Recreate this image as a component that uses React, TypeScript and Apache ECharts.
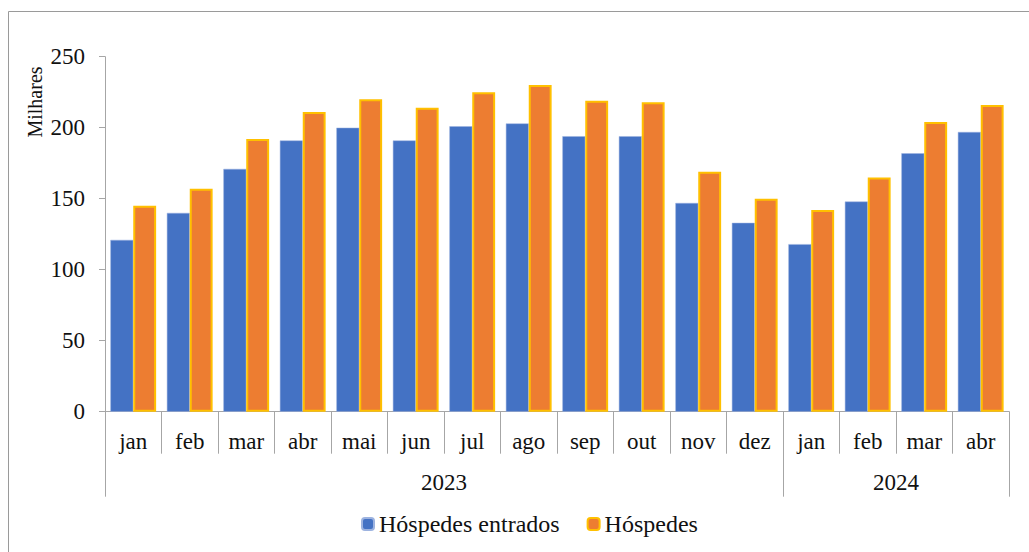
import React, { useEffect, useRef } from "react";
import * as echarts from "echarts";

const months = ["jan", "feb", "mar", "abr", "mai", "jun", "jul", "ago", "sep", "out", "nov", "dez", "jan", "feb", "mar", "abr"];
const monthYears = ["2023", "2023", "2023", "2023", "2023", "2023", "2023", "2023", "2023", "2023", "2023", "2023", "2024", "2024", "2024", "2024"];
const hospedesEntrados = [121, 140, 171, 191, 200, 191, 201, 203, 194, 194, 147, 133, 118, 148, 182, 197];
const hospedes = [145, 157, 192, 211, 220, 214, 225, 230, 219, 218, 169, 150, 142, 165, 204, 216];
const yTicks = { min: 0, max: 250, interval: 50 };

const FONT = "Liberation Serif";
const AXIS_GRAY = "#a6a6a6";
const TEXT = "#111";

export default function App() {
  const ref = useRef<HTMLDivElement>(null);

  useEffect(() => {
    if (!ref.current) return;
    const chart = echarts.init(ref.current, null, { renderer: "svg" });

    const starts: number[] = [];
    monthYears.forEach((y, i) => {
      if (i === 0 || y !== monthYears[i - 1]) starts.push(i);
    });
    const mids: number[] = starts.map((s, k) => {
      const end = k + 1 < starts.length ? starts[k + 1] : monthYears.length;
      return s + Math.floor((end - s) / 2);
    });
    const gridLeft = 105;
    const gridRight = 20;
    const band = (1029 - gridLeft - gridRight) / months.length;

    chart.setOption({
      animation: false,
      textStyle: { fontFamily: FONT },
      grid: { left: gridLeft, right: gridRight, top: 56.7, bottom: 140.3, containLabel: false },
      graphic: [
        {
          type: "rect",
          shape: { x: 8.5, y: 11.5, width: 1100, height: 700 },
          style: { fill: "none", stroke: "#9a9a9a", lineWidth: 1 },
          silent: true,
          z: -10,
        },
        {
          type: "text",
          x: 35,
          y: 102,
          rotation: Math.PI / 2,
          style: {
            text: "Milhares",
            font: `20px ${FONT}`,
            fill: TEXT,
            textAlign: "center",
            textVerticalAlign: "middle",
            align: "center",
            verticalAlign: "middle",
          },
        },
      ],
      legend: {
        left: 356,
        top: 507,
        itemWidth: 12,
        itemHeight: 12,
        itemGap: 27,
        textStyle: { fontFamily: FONT, fontSize: 24, color: TEXT },
        data: ["Hóspedes entrados", "Hóspedes"],
      },
      xAxis: [
        {
          type: "category",
          data: months,
          axisLine: { show: true, lineStyle: { color: AXIS_GRAY, width: 1 } },
          axisTick: { show: true, interval: 0, length: 42, lineStyle: { color: AXIS_GRAY } },
          axisLabel: { interval: 0, margin: 18, fontSize: 23, color: TEXT, fontFamily: FONT },
        },
        {
          type: "category",
          data: monthYears,
          position: "bottom",
          offset: 0,
          axisLine: { show: false },
          axisTick: {
            show: true,
            length: 85,
            interval: (index: number) => starts.includes(index),
            lineStyle: { color: AXIS_GRAY },
          },
          axisLabel: {
            margin: 59,
            interval: (index: number) => mids.includes(index),
            formatter: (value: string) => `{y|${value}}`,
            rich: {
              y: {
                fontSize: 23,
                fontFamily: FONT,
                color: TEXT,
                padding: [0, band, 0, 0],
              },
            },
          },
        },
      ],
      yAxis: {
        type: "value",
        min: yTicks.min,
        max: yTicks.max,
        interval: yTicks.interval,
        axisLine: { show: true, lineStyle: { color: AXIS_GRAY } },
        axisTick: { show: true, length: 6, lineStyle: { color: AXIS_GRAY } },
        splitLine: { show: false },
        axisLabel: { margin: 20, fontSize: 23, color: TEXT, fontFamily: FONT },
      },
      series: [
        {
          name: "Hóspedes entrados",
          type: "bar",
          data: hospedesEntrados,
          barGap: "0%",
          barCategoryGap: "19%",
          itemStyle: { color: "#4472C4", borderColor: "#9db3e0", borderWidth: 0.5 },
        },
        {
          name: "Hóspedes",
          type: "bar",
          data: hospedes,
          barGap: "0%",
          barCategoryGap: "19%",
          itemStyle: { color: "#ED7D31", borderColor: "#FFC000", borderWidth: 2 },
        },
      ],
    });

    return () => chart.dispose();
  }, []);

  return (
    <div
      ref={ref}
      style={{ position: "fixed", left: 0, top: 0, width: 1029, height: 552, background: "#fff" }}
    />
  );
}
